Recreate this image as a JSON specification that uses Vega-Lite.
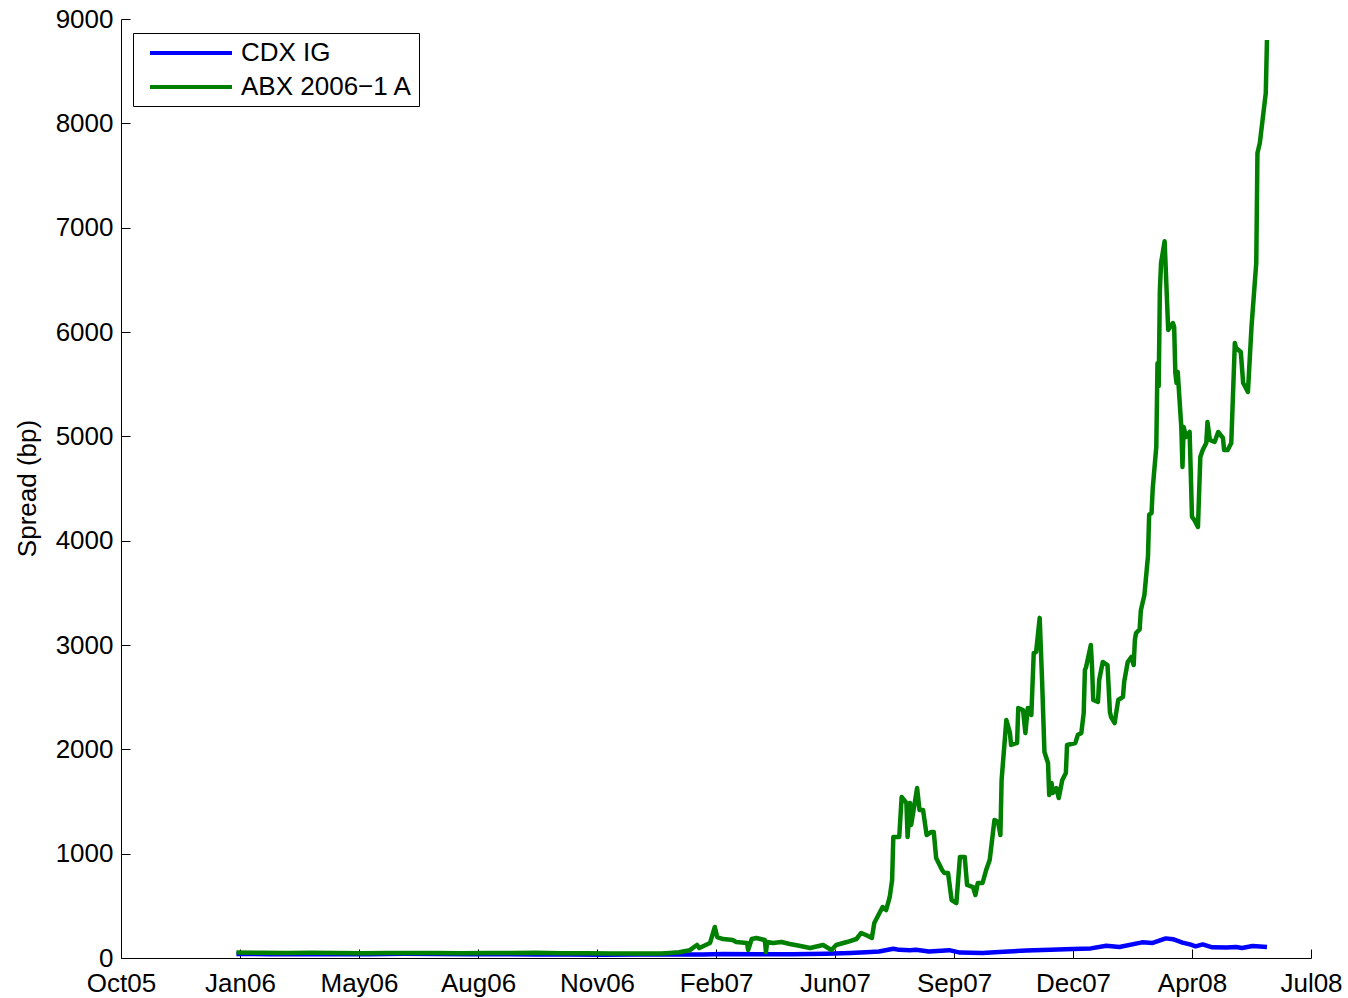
{
  "$schema": "https://vega.github.io/schema/vega-lite/v6.json",
  "width": 1190,
  "height": 939,
  "autosize": {"type": "none"},
  "padding": {"left": 121, "top": 19, "right": 37, "bottom": 40},
  "background": "white",
  "config": {
    "view": {"stroke": null},
    "font": "Liberation Sans",
    "axis": {
      "grid": false,
      "domainColor": "black",
      "domainWidth": 1,
      "tickColor": "black",
      "tickWidth": 1,
      "tickSize": -9,
      "labelColor": "black",
      "labelFontSize": 26,
      "labelFont": "Liberation Sans",
      "titleFont": "Liberation Sans",
      "titleFontSize": 26,
      "titleFontWeight": "normal",
      "titleColor": "black",
      "labelFlush": false,
      "labelOverlap": false
    }
  },
  "data": {
    "values": [
      {"date": "2006/01/20", "series": "CDX IG", "spread": 38},
      {"date": "2006/02/17", "series": "CDX IG", "spread": 37},
      {"date": "2006/03/17", "series": "CDX IG", "spread": 36},
      {"date": "2006/04/14", "series": "CDX IG", "spread": 36},
      {"date": "2006/05/12", "series": "CDX IG", "spread": 37},
      {"date": "2006/06/09", "series": "CDX IG", "spread": 40},
      {"date": "2006/07/07", "series": "CDX IG", "spread": 38},
      {"date": "2006/08/04", "series": "CDX IG", "spread": 36},
      {"date": "2006/09/01", "series": "CDX IG", "spread": 35},
      {"date": "2006/09/29", "series": "CDX IG", "spread": 34},
      {"date": "2006/10/27", "series": "CDX IG", "spread": 33},
      {"date": "2006/11/24", "series": "CDX IG", "spread": 32},
      {"date": "2006/12/22", "series": "CDX IG", "spread": 33},
      {"date": "2007/01/19", "series": "CDX IG", "spread": 33},
      {"date": "2007/02/16", "series": "CDX IG", "spread": 34},
      {"date": "2007/03/05", "series": "CDX IG", "spread": 38},
      {"date": "2007/04/04", "series": "CDX IG", "spread": 36},
      {"date": "2007/05/02", "series": "CDX IG", "spread": 36},
      {"date": "2007/05/30", "series": "CDX IG", "spread": 40},
      {"date": "2007/06/20", "series": "CDX IG", "spread": 48},
      {"date": "2007/07/03", "series": "CDX IG", "spread": 55},
      {"date": "2007/07/14", "series": "CDX IG", "spread": 62},
      {"date": "2007/07/26", "series": "CDX IG", "spread": 88},
      {"date": "2007/07/31", "series": "CDX IG", "spread": 78},
      {"date": "2007/08/09", "series": "CDX IG", "spread": 74},
      {"date": "2007/08/14", "series": "CDX IG", "spread": 80},
      {"date": "2007/08/25", "series": "CDX IG", "spread": 62},
      {"date": "2007/09/11", "series": "CDX IG", "spread": 75},
      {"date": "2007/09/20", "series": "CDX IG", "spread": 52},
      {"date": "2007/10/09", "series": "CDX IG", "spread": 48},
      {"date": "2007/10/23", "series": "CDX IG", "spread": 58},
      {"date": "2007/11/15", "series": "CDX IG", "spread": 72},
      {"date": "2007/12/05", "series": "CDX IG", "spread": 80},
      {"date": "2007/12/24", "series": "CDX IG", "spread": 86},
      {"date": "2008/01/08", "series": "CDX IG", "spread": 92},
      {"date": "2008/01/21", "series": "CDX IG", "spread": 118},
      {"date": "2008/02/01", "series": "CDX IG", "spread": 106},
      {"date": "2008/02/20", "series": "CDX IG", "spread": 150},
      {"date": "2008/02/29", "series": "CDX IG", "spread": 144},
      {"date": "2008/03/11", "series": "CDX IG", "spread": 188},
      {"date": "2008/03/17", "series": "CDX IG", "spread": 180},
      {"date": "2008/03/25", "series": "CDX IG", "spread": 148},
      {"date": "2008/04/01", "series": "CDX IG", "spread": 128},
      {"date": "2008/04/05", "series": "CDX IG", "spread": 112},
      {"date": "2008/04/11", "series": "CDX IG", "spread": 130},
      {"date": "2008/04/19", "series": "CDX IG", "spread": 102},
      {"date": "2008/05/01", "series": "CDX IG", "spread": 100},
      {"date": "2008/05/09", "series": "CDX IG", "spread": 106},
      {"date": "2008/05/14", "series": "CDX IG", "spread": 96},
      {"date": "2008/05/23", "series": "CDX IG", "spread": 115},
      {"date": "2008/06/04", "series": "CDX IG", "spread": 106},

      {"date": "2006/01/20", "series": "ABX 2006−1 A", "spread": 52},
      {"date": "2006/02/10", "series": "ABX 2006−1 A", "spread": 50},
      {"date": "2006/03/03", "series": "ABX 2006−1 A", "spread": 48},
      {"date": "2006/03/24", "series": "ABX 2006−1 A", "spread": 50},
      {"date": "2006/04/14", "series": "ABX 2006−1 A", "spread": 47},
      {"date": "2006/05/05", "series": "ABX 2006−1 A", "spread": 46},
      {"date": "2006/05/26", "series": "ABX 2006−1 A", "spread": 49},
      {"date": "2006/06/16", "series": "ABX 2006−1 A", "spread": 47},
      {"date": "2006/07/07", "series": "ABX 2006−1 A", "spread": 48},
      {"date": "2006/07/28", "series": "ABX 2006−1 A", "spread": 46},
      {"date": "2006/08/18", "series": "ABX 2006−1 A", "spread": 48},
      {"date": "2006/09/08", "series": "ABX 2006−1 A", "spread": 47},
      {"date": "2006/09/29", "series": "ABX 2006−1 A", "spread": 50},
      {"date": "2006/10/20", "series": "ABX 2006−1 A", "spread": 46},
      {"date": "2006/11/10", "series": "ABX 2006−1 A", "spread": 45},
      {"date": "2006/12/01", "series": "ABX 2006−1 A", "spread": 44},
      {"date": "2006/12/22", "series": "ABX 2006−1 A", "spread": 42},
      {"date": "2007/01/12", "series": "ABX 2006−1 A", "spread": 42},
      {"date": "2007/01/19", "series": "ABX 2006−1 A", "spread": 48},
      {"date": "2007/01/27", "series": "ABX 2006−1 A", "spread": 55},
      {"date": "2007/02/05", "series": "ABX 2006−1 A", "spread": 75},
      {"date": "2007/02/11", "series": "ABX 2006−1 A", "spread": 125},
      {"date": "2007/02/13", "series": "ABX 2006−1 A", "spread": 96},
      {"date": "2007/02/22", "series": "ABX 2006−1 A", "spread": 144},
      {"date": "2007/02/26", "series": "ABX 2006−1 A", "spread": 297},
      {"date": "2007/02/28", "series": "ABX 2006−1 A", "spread": 201},
      {"date": "2007/03/05", "series": "ABX 2006−1 A", "spread": 182},
      {"date": "2007/03/13", "series": "ABX 2006−1 A", "spread": 172},
      {"date": "2007/03/16", "series": "ABX 2006−1 A", "spread": 153},
      {"date": "2007/03/25", "series": "ABX 2006−1 A", "spread": 144},
      {"date": "2007/03/26", "series": "ABX 2006−1 A", "spread": 77},
      {"date": "2007/03/29", "series": "ABX 2006−1 A", "spread": 182},
      {"date": "2007/04/02", "series": "ABX 2006−1 A", "spread": 192},
      {"date": "2007/04/09", "series": "ABX 2006−1 A", "spread": 172},
      {"date": "2007/04/10", "series": "ABX 2006−1 A", "spread": 58},
      {"date": "2007/04/11", "series": "ABX 2006−1 A", "spread": 153},
      {"date": "2007/04/16", "series": "ABX 2006−1 A", "spread": 144},
      {"date": "2007/04/23", "series": "ABX 2006−1 A", "spread": 153},
      {"date": "2007/04/30", "series": "ABX 2006−1 A", "spread": 134},
      {"date": "2007/05/09", "series": "ABX 2006−1 A", "spread": 115},
      {"date": "2007/05/17", "series": "ABX 2006−1 A", "spread": 96},
      {"date": "2007/05/28", "series": "ABX 2006−1 A", "spread": 125},
      {"date": "2007/06/04", "series": "ABX 2006−1 A", "spread": 77},
      {"date": "2007/06/08", "series": "ABX 2006−1 A", "spread": 125},
      {"date": "2007/06/17", "series": "ABX 2006−1 A", "spread": 153},
      {"date": "2007/06/25", "series": "ABX 2006−1 A", "spread": 182},
      {"date": "2007/06/29", "series": "ABX 2006−1 A", "spread": 240},
      {"date": "2007/07/03", "series": "ABX 2006−1 A", "spread": 220},
      {"date": "2007/07/08", "series": "ABX 2006−1 A", "spread": 192},
      {"date": "2007/07/10", "series": "ABX 2006−1 A", "spread": 335},
      {"date": "2007/07/17", "series": "ABX 2006−1 A", "spread": 489},
      {"date": "2007/07/20", "series": "ABX 2006−1 A", "spread": 460},
      {"date": "2007/07/23", "series": "ABX 2006−1 A", "spread": 585},
      {"date": "2007/07/25", "series": "ABX 2006−1 A", "spread": 748},
      {"date": "2007/07/26", "series": "ABX 2006−1 A", "spread": 1160},
      {"date": "2007/07/31", "series": "ABX 2006−1 A", "spread": 1160},
      {"date": "2007/08/02", "series": "ABX 2006−1 A", "spread": 1543},
      {"date": "2007/08/06", "series": "ABX 2006−1 A", "spread": 1486},
      {"date": "2007/08/07", "series": "ABX 2006−1 A", "spread": 1160},
      {"date": "2007/08/09", "series": "ABX 2006−1 A", "spread": 1486},
      {"date": "2007/08/10", "series": "ABX 2006−1 A", "spread": 1275},
      {"date": "2007/08/15", "series": "ABX 2006−1 A", "spread": 1629},
      {"date": "2007/08/17", "series": "ABX 2006−1 A", "spread": 1418},
      {"date": "2007/08/20", "series": "ABX 2006−1 A", "spread": 1418},
      {"date": "2007/08/23", "series": "ABX 2006−1 A", "spread": 1179},
      {"date": "2007/08/27", "series": "ABX 2006−1 A", "spread": 1208},
      {"date": "2007/08/29", "series": "ABX 2006−1 A", "spread": 1208},
      {"date": "2007/08/31", "series": "ABX 2006−1 A", "spread": 958},
      {"date": "2007/09/05", "series": "ABX 2006−1 A", "spread": 843},
      {"date": "2007/09/07", "series": "ABX 2006−1 A", "spread": 815},
      {"date": "2007/09/10", "series": "ABX 2006−1 A", "spread": 815},
      {"date": "2007/09/13", "series": "ABX 2006−1 A", "spread": 556},
      {"date": "2007/09/17", "series": "ABX 2006−1 A", "spread": 527},
      {"date": "2007/09/20", "series": "ABX 2006−1 A", "spread": 968},
      {"date": "2007/09/24", "series": "ABX 2006−1 A", "spread": 968},
      {"date": "2007/09/26", "series": "ABX 2006−1 A", "spread": 700},
      {"date": "2007/10/01", "series": "ABX 2006−1 A", "spread": 680},
      {"date": "2007/10/03", "series": "ABX 2006−1 A", "spread": 604},
      {"date": "2007/10/05", "series": "ABX 2006−1 A", "spread": 719},
      {"date": "2007/10/09", "series": "ABX 2006−1 A", "spread": 719},
      {"date": "2007/10/12", "series": "ABX 2006−1 A", "spread": 843},
      {"date": "2007/10/15", "series": "ABX 2006−1 A", "spread": 939},
      {"date": "2007/10/17", "series": "ABX 2006−1 A", "spread": 1131},
      {"date": "2007/10/19", "series": "ABX 2006−1 A", "spread": 1323},
      {"date": "2007/10/22", "series": "ABX 2006−1 A", "spread": 1304},
      {"date": "2007/10/24", "series": "ABX 2006−1 A", "spread": 1179},
      {"date": "2007/10/25", "series": "ABX 2006−1 A", "spread": 1706},
      {"date": "2007/10/29", "series": "ABX 2006−1 A", "spread": 2281},
      {"date": "2007/11/01", "series": "ABX 2006−1 A", "spread": 2157},
      {"date": "2007/11/02", "series": "ABX 2006−1 A", "spread": 2042},
      {"date": "2007/11/07", "series": "ABX 2006−1 A", "spread": 2061},
      {"date": "2007/11/08", "series": "ABX 2006−1 A", "spread": 2396},
      {"date": "2007/11/12", "series": "ABX 2006−1 A", "spread": 2377},
      {"date": "2007/11/14", "series": "ABX 2006−1 A", "spread": 2157},
      {"date": "2007/11/16", "series": "ABX 2006−1 A", "spread": 2396},
      {"date": "2007/11/19", "series": "ABX 2006−1 A", "spread": 2329},
      {"date": "2007/11/21", "series": "ABX 2006−1 A", "spread": 2923},
      {"date": "2007/11/23", "series": "ABX 2006−1 A", "spread": 2933},
      {"date": "2007/11/26", "series": "ABX 2006−1 A", "spread": 3260},
      {"date": "2007/11/28", "series": "ABX 2006−1 A", "spread": 2665},
      {"date": "2007/11/30", "series": "ABX 2006−1 A", "spread": 1975},
      {"date": "2007/12/03", "series": "ABX 2006−1 A", "spread": 1869},
      {"date": "2007/12/04", "series": "ABX 2006−1 A", "spread": 1562},
      {"date": "2007/12/06", "series": "ABX 2006−1 A", "spread": 1677},
      {"date": "2007/12/07", "series": "ABX 2006−1 A", "spread": 1581},
      {"date": "2007/12/10", "series": "ABX 2006−1 A", "spread": 1629},
      {"date": "2007/12/12", "series": "ABX 2006−1 A", "spread": 1533},
      {"date": "2007/12/15", "series": "ABX 2006−1 A", "spread": 1706},
      {"date": "2007/12/18", "series": "ABX 2006−1 A", "spread": 1773},
      {"date": "2007/12/19", "series": "ABX 2006−1 A", "spread": 2042},
      {"date": "2007/12/26", "series": "ABX 2006−1 A", "spread": 2061},
      {"date": "2007/12/28", "series": "ABX 2006−1 A", "spread": 2137},
      {"date": "2007/12/31", "series": "ABX 2006−1 A", "spread": 2157},
      {"date": "2008/01/02", "series": "ABX 2006−1 A", "spread": 2348},
      {"date": "2008/01/03", "series": "ABX 2006−1 A", "spread": 2760},
      {"date": "2008/01/04", "series": "ABX 2006−1 A", "spread": 2789},
      {"date": "2008/01/08", "series": "ABX 2006−1 A", "spread": 3000},
      {"date": "2008/01/09", "series": "ABX 2006−1 A", "spread": 2789},
      {"date": "2008/01/10", "series": "ABX 2006−1 A", "spread": 2473},
      {"date": "2008/01/14", "series": "ABX 2006−1 A", "spread": 2454},
      {"date": "2008/01/15", "series": "ABX 2006−1 A", "spread": 2665},
      {"date": "2008/01/18", "series": "ABX 2006−1 A", "spread": 2837},
      {"date": "2008/01/22", "series": "ABX 2006−1 A", "spread": 2808},
      {"date": "2008/01/24", "series": "ABX 2006−1 A", "spread": 2358},
      {"date": "2008/01/25", "series": "ABX 2006−1 A", "spread": 2310},
      {"date": "2008/01/28", "series": "ABX 2006−1 A", "spread": 2252},
      {"date": "2008/01/29", "series": "ABX 2006−1 A", "spread": 2329},
      {"date": "2008/01/31", "series": "ABX 2006−1 A", "spread": 2473},
      {"date": "2008/02/04", "series": "ABX 2006−1 A", "spread": 2502},
      {"date": "2008/02/05", "series": "ABX 2006−1 A", "spread": 2646},
      {"date": "2008/02/08", "series": "ABX 2006−1 A", "spread": 2837},
      {"date": "2008/02/11", "series": "ABX 2006−1 A", "spread": 2885},
      {"date": "2008/02/13", "series": "ABX 2006−1 A", "spread": 2808},
      {"date": "2008/02/14", "series": "ABX 2006−1 A", "spread": 3048},
      {"date": "2008/02/15", "series": "ABX 2006−1 A", "spread": 3115},
      {"date": "2008/02/18", "series": "ABX 2006−1 A", "spread": 3150},
      {"date": "2008/02/19", "series": "ABX 2006−1 A", "spread": 3330},
      {"date": "2008/02/22", "series": "ABX 2006−1 A", "spread": 3480},
      {"date": "2008/02/25", "series": "ABX 2006−1 A", "spread": 3850},
      {"date": "2008/02/26", "series": "ABX 2006−1 A", "spread": 4250},
      {"date": "2008/02/28", "series": "ABX 2006−1 A", "spread": 4265},
      {"date": "2008/02/29", "series": "ABX 2006−1 A", "spread": 4500},
      {"date": "2008/03/03", "series": "ABX 2006−1 A", "spread": 4900},
      {"date": "2008/03/04", "series": "ABX 2006−1 A", "spread": 5700},
      {"date": "2008/03/05", "series": "ABX 2006−1 A", "spread": 5480},
      {"date": "2008/03/06", "series": "ABX 2006−1 A", "spread": 6400},
      {"date": "2008/03/07", "series": "ABX 2006−1 A", "spread": 6662},
      {"date": "2008/03/10", "series": "ABX 2006−1 A", "spread": 6870},
      {"date": "2008/03/13", "series": "ABX 2006−1 A", "spread": 6019},
      {"date": "2008/03/17", "series": "ABX 2006−1 A", "spread": 6086},
      {"date": "2008/03/18", "series": "ABX 2006−1 A", "spread": 6048},
      {"date": "2008/03/19", "series": "ABX 2006−1 A", "spread": 5607},
      {"date": "2008/03/20", "series": "ABX 2006−1 A", "spread": 5511},
      {"date": "2008/03/21", "series": "ABX 2006−1 A", "spread": 5617},
      {"date": "2008/03/24", "series": "ABX 2006−1 A", "spread": 5090},
      {"date": "2008/03/25", "series": "ABX 2006−1 A", "spread": 4706},
      {"date": "2008/03/26", "series": "ABX 2006−1 A", "spread": 5090},
      {"date": "2008/03/28", "series": "ABX 2006−1 A", "spread": 4994},
      {"date": "2008/03/31", "series": "ABX 2006−1 A", "spread": 5042},
      {"date": "2008/04/02", "series": "ABX 2006−1 A", "spread": 4227},
      {"date": "2008/04/04", "series": "ABX 2006−1 A", "spread": 4198},
      {"date": "2008/04/07", "series": "ABX 2006−1 A", "spread": 4131},
      {"date": "2008/04/09", "series": "ABX 2006−1 A", "spread": 4802},
      {"date": "2008/04/11", "series": "ABX 2006−1 A", "spread": 4869},
      {"date": "2008/04/14", "series": "ABX 2006−1 A", "spread": 4936},
      {"date": "2008/04/15", "series": "ABX 2006−1 A", "spread": 5138},
      {"date": "2008/04/17", "series": "ABX 2006−1 A", "spread": 4965},
      {"date": "2008/04/21", "series": "ABX 2006−1 A", "spread": 4946},
      {"date": "2008/04/24", "series": "ABX 2006−1 A", "spread": 5042},
      {"date": "2008/04/28", "series": "ABX 2006−1 A", "spread": 4984},
      {"date": "2008/04/29", "series": "ABX 2006−1 A", "spread": 4869},
      {"date": "2008/05/02", "series": "ABX 2006−1 A", "spread": 4869},
      {"date": "2008/05/05", "series": "ABX 2006−1 A", "spread": 4936},
      {"date": "2008/05/08", "series": "ABX 2006−1 A", "spread": 5895},
      {"date": "2008/05/09", "series": "ABX 2006−1 A", "spread": 5847},
      {"date": "2008/05/13", "series": "ABX 2006−1 A", "spread": 5808},
      {"date": "2008/05/15", "series": "ABX 2006−1 A", "spread": 5511},
      {"date": "2008/05/19", "series": "ABX 2006−1 A", "spread": 5425},
      {"date": "2008/05/22", "series": "ABX 2006−1 A", "spread": 6048},
      {"date": "2008/05/26", "series": "ABX 2006−1 A", "spread": 6662},
      {"date": "2008/05/27", "series": "ABX 2006−1 A", "spread": 7716},
      {"date": "2008/05/29", "series": "ABX 2006−1 A", "spread": 7812},
      {"date": "2008/06/03", "series": "ABX 2006−1 A", "spread": 8291},
      {"date": "2008/06/04", "series": "ABX 2006−1 A", "spread": 8799}
    ]
  },
  "mark": {"type": "line", "strokeWidth": 4.5, "strokeJoin": "round", "strokeCap": "butt"},
  "encoding": {
    "x": {
      "field": "date",
      "type": "temporal",
      "scale": {
        "domain": [{"year": 2005, "month": 10, "date": 15}, {"year": 2008, "month": 7, "date": 11}],
        "nice": false
      },
      "axis": {
        "title": null,
        "format": "%b%y",
        "labelPadding": 21,
        "values": [
          {"year": 2005, "month": 10, "date": 15},
          {"year": 2006, "month": 1, "date": 23},
          {"year": 2006, "month": 5, "date": 3},
          {"year": 2006, "month": 8, "date": 11},
          {"year": 2006, "month": 11, "date": 19},
          {"year": 2007, "month": 2, "date": 27},
          {"year": 2007, "month": 6, "date": 7},
          {"year": 2007, "month": 9, "date": 15},
          {"year": 2007, "month": 12, "date": 24},
          {"year": 2008, "month": 4, "date": 2},
          {"year": 2008, "month": 7, "date": 11}
        ]
      }
    },
    "y": {
      "field": "spread",
      "type": "quantitative",
      "scale": {"domain": [0, 9000], "nice": false, "zero": true},
      "axis": {
        "title": "Spread (bp)",
        "format": "d",
        "values": [0, 1000, 2000, 3000, 4000, 5000, 6000, 7000, 8000, 9000],
        "labelPadding": 17,
        "titleAngle": -90,
        "titleX": -94,
        "titleY": 469,
        "titleAlign": "center",
        "titleBaseline": "middle"
      }
    },
    "color": {
      "field": "series",
      "type": "nominal",
      "scale": {"domain": ["CDX IG", "ABX 2006−1 A"], "range": ["#0000ff", "#008000"]},
      "legend": {
        "title": null,
        "orient": "none",
        "legendX": 12,
        "legendY": 14,
        "symbolType": "M-3.4167,0H3.4167",
        "symbolStrokeWidth": 4,
        "symbolSize": 576,
        "symbolOffset": 38,
        "labelFontSize": 26,
        "labelFont": "Liberation Sans",
        "labelColor": "black",
        "labelOffset": 36,
        "labelLimit": 0,
        "strokeColor": "black",
        "fillColor": "white",
        "padding": 6,
        "rowPadding": 7
      }
    }
  }
}
